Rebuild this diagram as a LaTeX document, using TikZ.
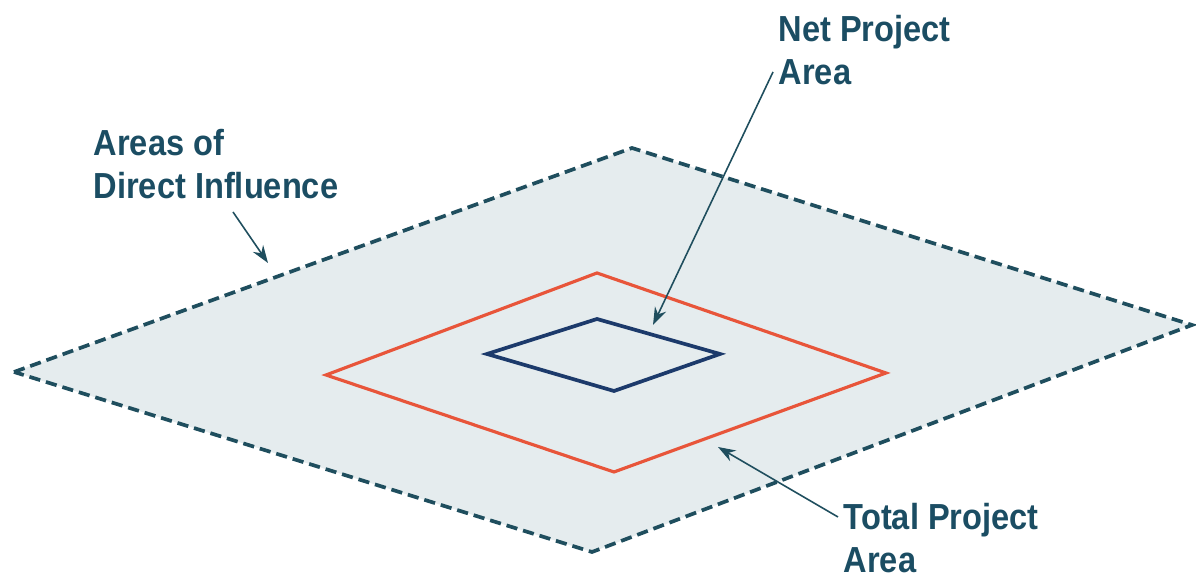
\documentclass[tikz,border=0pt]{standalone}
\usepackage{fontspec}
\setmainfont{Liberation Sans}[FakeStretch=0.9]
\usetikzlibrary{arrows.meta, calc}
\definecolor{tealdark}{HTML}{1F4E5E}
\definecolor{labelcol}{HTML}{1B4D63}
\definecolor{zonefill}{HTML}{E5ECEE}
\definecolor{totalred}{HTML}{E8553A}
\definecolor{netblue}{HTML}{1C3A6B}

\begin{document}
\begin{tikzpicture}[
			x=0.01cm, y=-0.01cm,
			>=Stealth,
			lbl/.style={
				anchor=north west, inner sep=0pt, align=left, text=labelcol,
				font=\fontsize{10.3}{12.2}\selectfont\bfseries
			},
			arr/.style={-{Stealth[length=5pt, width=3.5pt]}, line width=0.45pt, color=tealdark},
			]
			\useasboundingbox (0,0) rectangle (1196,577);
			
			% ── Areas of direct influence ───────────────────────────────────
			\filldraw[fill=zonefill, draw=tealdark, line width=1.05pt,
				dash pattern=on 3.2pt off 1.7pt, line join=miter]
				(14,372) -- (632,148) -- (1192,325) -- (592,552) -- cycle;
			
			% ── Total and net project area ──────────────────────────────────
			\draw[totalred, line width=0.9pt] (326,375) -- (597,273) -- (886,373) -- (614,472) -- cycle;
			\draw[netblue, line width=1.05pt] (487,354) -- (597,319) -- (720,354) -- (614,391) -- cycle;
			
			% ── Labels ───────────────────────────────────────────────────────
			\node[lbl] (aoi) at (93,129) {Areas of\\Direct Influence};
			\node[lbl] (npa) at (778,15) {Net Project\\Area};
			\node[lbl] (tpa) at (843,503) {Total Project\\Area};
			
			\coordinate (aoiFrom) at (233,212);
			\coordinate (aoiTo)   at (268,263);
			\coordinate (npaFrom) at (773,72);
			\coordinate (npaTo)   at (653,325);
			\coordinate (tpaFrom) at (838,517);
			\coordinate (tpaTo)   at (718,447);
			
			\draw[arr] (aoiFrom) -- (aoiTo);
			\draw[arr] (npaFrom) -- (npaTo);
			\draw[arr] (tpaFrom) -- (tpaTo);
			
		\end{tikzpicture}
\end{document}
